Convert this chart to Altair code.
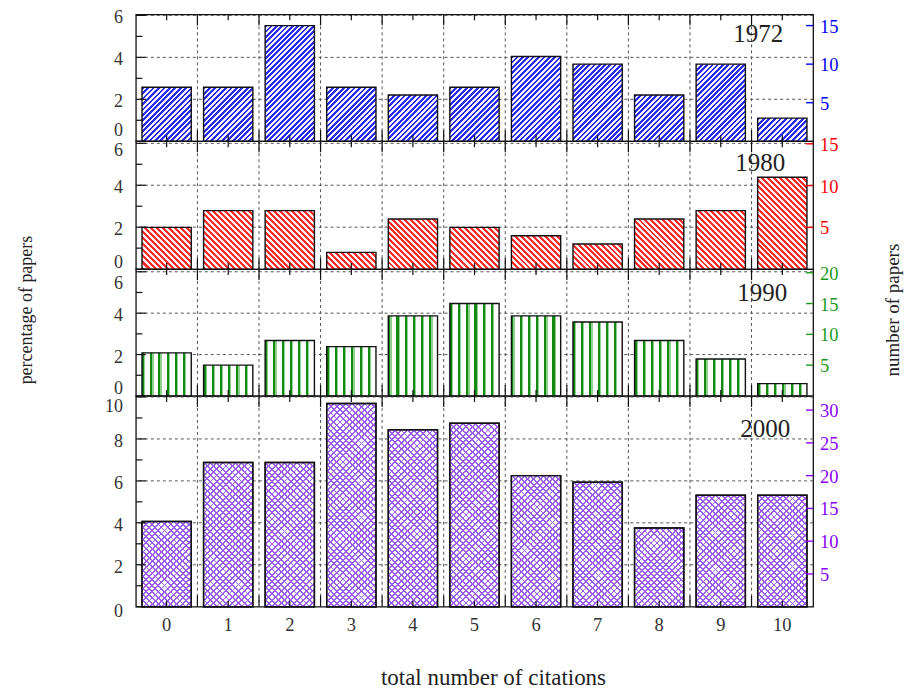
import math
import altair as alt

# ---------------- data ----------------
citations = [0, 1, 2, 3, 4, 5, 6, 7, 8, 9, 10]
years = ["1972", "1980", "1990", "2000"]
papers_1972 = [7, 7, 15, 7, 6, 7, 11, 10, 6, 10, 3]
papers_1980 = [5, 7, 7, 2, 6, 5, 4, 3, 6, 7, 11]
papers_1990 = [7, 5, 9, 8, 13, 15, 13, 12, 9, 6, 2]
papers_2000 = [13, 22, 22, 31, 27, 28, 20, 19, 12, 17, 17]
totals = [272, 251, 336, 320]          # papers per year (percent base)

left_major = [[0, 2, 4, 6], [0, 2, 4, 6], [0, 2, 4, 6], [0, 2, 4, 6, 8, 10]]
left_minor = [[1, 3, 5], [1, 3, 5], [1, 3, 5], [1, 3, 5, 7, 9]]
right_ticks = [[5, 10, 15], [5, 10, 15], [5, 10, 15, 20], [5, 10, 15, 20, 25, 30]]
pct_top = [6.05, 6.1, 6.13, 10.05]

# ---------------- style ----------------
FONT = "Liberation Serif"
W = 678
HEIGHTS = [127, 128, 127, 211]
AXIS_COLORS = ["#0000ff", "#ff0000", "#1a9a1a", "#8a00ff"]
TOP_DY = [3, 7.5, 12, 10.5]
BOT_DY = [-10, -6.5, -7, 5]
PX = W / 11.0
BAR_W = 0.8 * PX
LABEL_COL = "#333333"

all_counts = [papers_1972, papers_1980, papers_1990, papers_2000]


def stripes(n, parts):
    stops = []
    for i in range(n):
        start = i / n
        for frac0, frac1, col in parts:
            stops.append({"offset": start + frac0 / n, "color": col})
            stops.append({"offset": start + frac1 / n, "color": col})
    return stops


def diag_grad(h, period, parts, direction):
    w = BAR_W
    h = max(h, 1.0)
    dx, dy = 1.0 / h, 1.0 / w
    s = (dx + dy) / (dx * dx + dy * dy)
    n = max(1, int(round((w + h) / math.sqrt(2) / period)))
    st = stripes(n, parts)
    if direction == "/":
        return {"gradient": "linear", "x1": 0, "y1": 0, "x2": dx * s, "y2": dy * s, "stops": st}
    return {"gradient": "linear", "x1": 0, "y1": 1, "x2": dx * s, "y2": 1 - dy * s, "stops": st}


def vert_grad(period, parts):
    n = max(1, int(round(BAR_W / period)))
    return {"gradient": "linear", "x1": 0, "y1": 0, "x2": 1, "y2": 0, "stops": stripes(n, parts)}


BLUE_PARTS = [(0, 0.5, "#2a2af0"), (0.5, 1, "#f4f4ff")]
RED_PARTS = [(0, 0.5, "#ff2a2a"), (0.5, 1, "#fff4f4")]
GREEN_PARTS = [(0, 0.25, "#128a12"), (0.25, 0.4, "#8fd08f"), (0.4, 1, "#ffffff")]
PURPLE_A = [(0, 0.3, "#9a5cf0"), (0.3, 1, "#ffffff")]
PURPLE_B = [(0, 0.3, "#9a5cf0"), (0.3, 1, "rgba(255,255,255,0)")]

xscale = alt.Scale(domain=[-0.5, 10.5], nice=False, zero=False)


def vals(lst):
    return alt.Data(values=[{"v": v, "s": str(v)} for v in lst])


def panel(i):
    counts = all_counts[i]
    N = totals[i]
    H = HEIGHTS[i]
    top = pct_top[i]
    color = AXIS_COLORS[i]
    last = i == 3
    yscale = alt.Scale(domain=[0, top], nice=False, zero=True)
    rscale = alt.Scale(domain=[0, top * N / 100.0], nice=False, zero=True)

    rows = []
    for c, n in zip(citations, counts):
        pct = n / N * 100.0
        hpx = pct / top * H
        if i == 0:
            g1, g2 = diag_grad(hpx, 3.8, BLUE_PARTS, "/"), None
        elif i == 1:
            g1, g2 = diag_grad(hpx, 4.2, RED_PARTS, "\\"), None
        elif i == 2:
            g1, g2 = vert_grad(7.8, GREEN_PARTS), None
        else:
            g1 = diag_grad(hpx, 4.4, PURPLE_A, "/")
            g2 = diag_grad(hpx, 4.4, PURPLE_B, "\\")
        r = {"c": c, "n": n, "pct": pct, "g1": g1}
        if g2 is not None:
            r["g2"] = g2
        rows.append(r)

    grid_y = [v for v in left_major[i] if v != 0]
    between = [c + 0.5 for c in citations[:-1]]

    layers = []
    # grids
    layers.append(
        alt.Chart(vals(grid_y)).mark_rule(color="#555555", strokeDash=[3, 3], strokeWidth=1)
        .encode(y=alt.Y("v:Q", scale=yscale, axis=None))
    )
    layers.append(
        alt.Chart(vals(between)).mark_rule(color="#555555", strokeDash=[3, 3], strokeWidth=1)
        .encode(x=alt.X("v:Q", scale=xscale, axis=None))
    )

    # bars (percentage)
    for key in (["g1", "g2"] if last else ["g1"]):
        layers.append(
            alt.Chart(alt.Data(values=rows))
            .transform_calculate(lo="datum.c - 0.4", hi="datum.c + 0.4")
            .mark_bar(stroke="#111111", strokeWidth=1.4)
            .encode(
                x=alt.X("lo:Q", scale=xscale, axis=None),
                x2="hi:Q",
                y=alt.Y("pct:Q", scale=yscale, axis=None, stack=None),
                y2=alt.datum(0),
                fill=alt.Fill(key + ":N", scale=None),
            )
        )

    # left inward ticks
    for vv, ln in ((left_major[i], 10), (left_minor[i], 6.5)):
        layers.append(
            alt.Chart(vals(vv)).mark_rule(color="#111111", strokeWidth=1.2)
            .encode(y=alt.Y("v:Q", scale=yscale, axis=None), x=alt.value(0), x2=alt.value(ln))
        )
    # x inward ticks (top & bottom)
    for vv, ln in ((between, 11), (citations, 6)):
        layers.append(
            alt.Chart(vals(vv)).mark_rule(color="#111111", strokeWidth=1.2)
            .encode(x=alt.X("v:Q", scale=xscale, axis=None), y=alt.value(0), y2=alt.value(ln))
        )
        layers.append(
            alt.Chart(vals(vv)).mark_rule(color="#111111", strokeWidth=1.2)
            .encode(x=alt.X("v:Q", scale=xscale, axis=None), y=alt.value(H - ln), y2=alt.value(H))
        )

    # left tick labels (percentage)
    lm = left_major[i]
    for vv, dy in (([lm[0]], BOT_DY[i]), (lm[1:-1], 3), ([lm[-1]], TOP_DY[i])):
        layers.append(
            alt.Chart(vals(vv))
            .mark_text(font=FONT, fontSize=18, color=LABEL_COL, align="right",
                       baseline="middle", dy=dy)
            .encode(y=alt.Y("v:Q", scale=yscale, axis=None), x=alt.value(-13), text="s:N")
        )

    # right ticks and labels (number of papers)
    layers.append(
        alt.Chart(vals(right_ticks[i])).mark_rule(color=color, strokeWidth=1.4)
        .encode(y=alt.Y("v:Q", scale=rscale, axis=None), x=alt.value(W - 7), x2=alt.value(W))
    )
    layers.append(
        alt.Chart(vals(right_ticks[i]))
        .mark_text(font=FONT, fontSize=18.5, color=color, align="left", baseline="middle", dy=1)
        .encode(y=alt.Y("v:Q", scale=rscale, axis=None), x=alt.value(W + 7), text="s:N")
    )

    # bottom tick labels
    if last:
        layers.append(
            alt.Chart(vals(citations))
            .mark_text(font=FONT, fontSize=18.5, color=LABEL_COL, align="center", baseline="middle")
            .encode(x=alt.X("v:Q", scale=xscale, axis=None), y=alt.value(H + 18), text="s:N")
        )

    # year label
    year_pos = [(623, 20), (625, 22), (627, 24), (630, 33)][i]
    layers.append(
        alt.Chart(alt.Data(values=[{"t": years[i]}]))
        .mark_text(font=FONT, fontSize=25, color="#222222", align="center", baseline="middle")
        .encode(text="t:N", x=alt.value(year_pos[0]), y=alt.value(year_pos[1]))
    )

    if i == 2:
        for txt, xp, fs in (("percentage of papers", -109, 18), ("number of papers", 758, 19)):
            layers.append(
                alt.Chart(alt.Data(values=[{"t": txt}]))
                .mark_text(font=FONT, fontSize=fs, color="#222222", angle=270,
                           align="center", baseline="middle")
                .encode(text="t:N", x=alt.value(xp), y=alt.value(41))
            )
    if last:
        layers.append(
            alt.Chart(alt.Data(values=[{"t": "total number of citations"}]))
            .mark_text(font=FONT, fontSize=23, color="#222222", align="center", baseline="middle")
            .encode(text="t:N", x=alt.value(358), y=alt.value(71 + H))
        )

    return (
        alt.layer(*layers)
        .resolve_scale(y="independent")
        .properties(width=W, height=H)
    )


chart = (
    alt.vconcat(*[panel(i) for i in range(4)], spacing=0, bounds="flush")
    .properties(padding={"left": 9, "top": 0, "right": 0, "bottom": 0})
    .configure_view(stroke="#111111", strokeWidth=1.3)
)

chart.save("out.html", embed_options={"renderer": "svg", "actions": False})
